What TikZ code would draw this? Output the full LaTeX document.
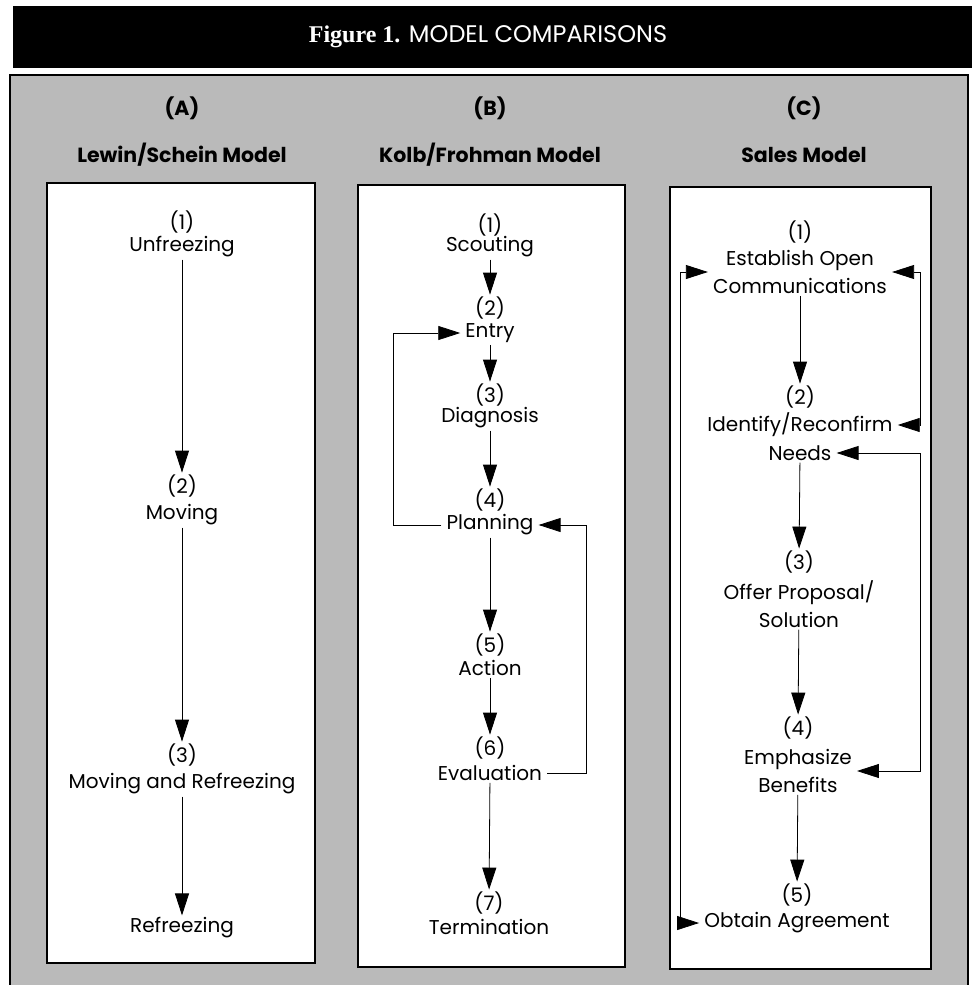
\documentclass[tikz,border=0pt]{standalone}
\usepackage{fontspec}
\setmainfont{Poppins}
\newfontfamily\titleserif{Liberation Serif}
\usetikzlibrary{arrows.meta, calc}

\newcommand\stagefont{\fontsize{20}{28}\selectfont}
\newcommand\headfont{\fontsize{20.5}{24}\selectfont\bfseries}
\newcommand\titlefont{\fontsize{24}{28}\selectfont}

\begin{document}
\begin{tikzpicture}[
    x=1pt, y=-1pt,
    % Styles des cadres et des textes
    panel/.style={draw=black, line width=1.5pt, fill=white},
    stage/.style={align=center, inner xsep=5pt, inner ysep=2pt, font=\stagefont},
    header/.style={align=center, inner sep=2pt, font=\headfont},
    flow/.style={draw, line width=0.8pt, -{Triangle[length=22pt, width=14pt]}},
    twoway/.style={draw, line width=0.8pt,
        {Triangle[length=22pt, width=14pt]}-{Triangle[length=22pt, width=14pt]}}
]

    \useasboundingbox (0,0) rectangle (973,985);

    % Background

    %% Title bar
    \fill[black] (13,6) rectangle (972,68);
    \node[white, font=\titlefont] (title) at (488,37)
        {{\titleserif\bfseries Figure 1.} MODEL COMPARISONS};

    %% Gray frame and white panels
    \draw[fill=black!27, line width=2pt] (10,75) rectangle (968,1000);
    \draw[panel] (47,183) rectangle (315,963);
    \draw[panel] (358,185) rectangle (625,967);
    \draw[panel] (670,187) rectangle (931,969);


    % Headers

    \node[header] (ha) at (182,108) {(A)};
    \node[header] (ma) at (182,155) {Lewin/Schein Model};
    \node[header] (hb) at (490,108) {(B)};
    \node[header] (mb) at (490,155) {Kolb/Frohman Model};
    \node[header] (hc) at (804,108) {(C)};
    \node[header] (mc) at (804,155) {Sales Model};


    % (A) Lewin/Schein

    \node[stage] (a1n) at (182,222) {(1)};
    \node[stage] (a1) at (182,247) {Unfreezing};
    \node[stage] (a2n) at (182,486) {(2)};
    \node[stage] (a2) at (182,515) {Moving};
    \node[stage] (a3n) at (182,755) {(3)};
    \node[stage] (a3) at (182,784) {Moving and Refreezing};
    \node[stage] (a4) at (182,928) {Refreezing};

    \draw[flow] (a1) -- (a2n);
    \draw[flow] (a2) -- (a3n);
    \draw[flow] (a3) -- (a4);


    % (B) Kolb/Frohman

    \node[stage] (b1n) at (490,225) {(1)};
    \node[stage] (b1) at (490,247) {Scouting};
    \node[stage] (b2n) at (490,308) {(2)};
    \node[stage] (b2) at (490,333) {Entry};
    \node[stage] (b3n) at (490,395) {(3)};
    \node[stage] (b3) at (490,418) {Diagnosis};
    \node[stage] (b4n) at (490,500) {(4)};
    \node[stage] (b4) at (490,525) {Planning};
    \node[stage] (b5n) at (490,645) {(5)};
    \node[stage] (b5) at (490,668) {Action};
    \node[stage] (b6n) at (490,748) {(6)};
    \node[stage] (b6) at (490,773) {Evaluation};
    \node[stage] (b7n) at (489,903) {(7)};
    \node[stage] (b7) at (489,927) {Termination};

    \draw[flow] (b1) -- (b2n);
    \draw[flow] (b2) -- (b3n);
    \draw[flow] (b3) -- (b4n);
    \draw[flow] (b4) -- (b5n);
    \draw[flow] (b5) -- (b6n);
    \draw[flow] (b6) -- (b7n);

    %% Feedback loops
    \coordinate (bl) at (393,0);
    \coordinate (br) at (586,0);
    \draw[flow] (b4.west) -- (b4.west -| bl) -- (b2.west -| bl) -- (b2.west);
    \draw[flow] (b6.east) -- (b6.east -| br) -- (b4.east -| br) -- (b4.east);


    % (C) Sales

    \node[stage] (c1n) at (800,232) {(1)};
    \node[stage] (c1) at (800,272) {Establish Open\\Communications};
    \node[stage] (c2n) at (800,397) {(2)};
    \node[stage] (c2a) at (800,425) {Identify/Reconfirm};
    \node[stage] (c2b) at (800,453) {Needs};
    \node[stage] (c3n) at (799,562) {(3)};
    \node[stage] (c3) at (799,604) {Offer Proposal/\\Solution};
    \node[stage] (c4n) at (798,728) {(4)};
    \node[stage] (c4) at (798,771) {Emphasize\\Benefits};
    \node[stage] (c5n) at (797,895) {(5)};
    \node[stage] (c5) at (797,923) {Obtain Agreement};

    \draw[flow] (c1) -- (c2n);
    \draw[flow] (c2b) -- (c3n);
    \draw[flow] (c3) -- (c4n);
    \draw[flow] (c4) -- (c5n);

    %% Two-way links
    \coordinate (cl) at (680,0);
    \coordinate (cr) at (920,0);
    \draw[twoway] (c1.west) -- (c1.west -| cl) -- (c5.west -| cl) -- (c5.west);
    \draw[twoway] (c1.east) -- (c1.east -| cr) -- (c2a.east -| cr) -- (c2a.east);
    \draw[twoway] (c2b.east) -- (c2b.east -| cr) -- (c4.east -| cr) -- (c4.east);

\end{tikzpicture}
\end{document}
